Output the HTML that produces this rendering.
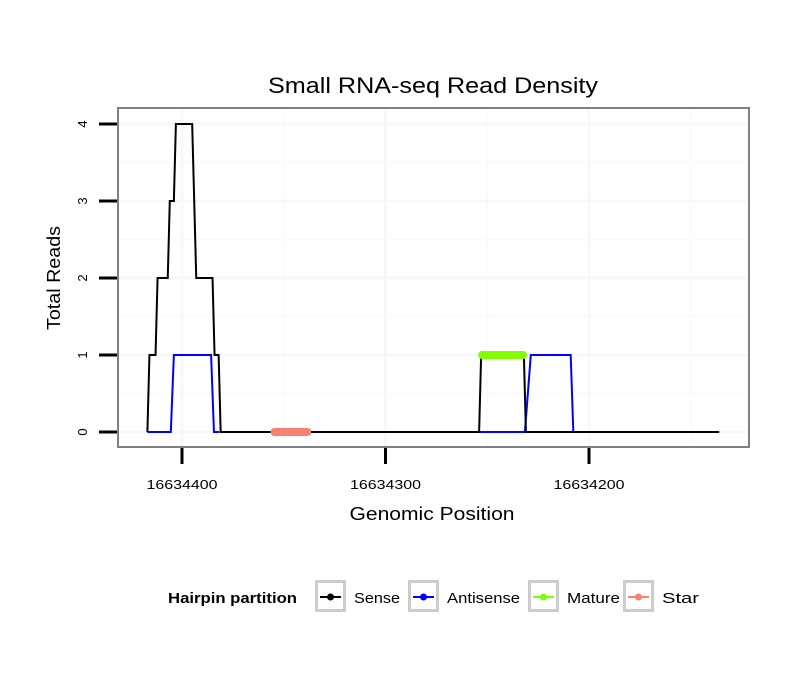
<!DOCTYPE html>
<html><head><meta charset="utf-8"><style>
body{margin:0;background:#fff}
svg{display:block;font-family:"Liberation Sans",sans-serif}
</style></head><body>
<svg id="chart" width="810" height="690" viewBox="0 0 810 690" xmlns="http://www.w3.org/2000/svg">
<text x="433" y="93" font-size="22" text-anchor="middle" textLength="330" lengthAdjust="spacingAndGlyphs">Small RNA-seq Read Density</text>
<g id="grid"></g>
<g id="series"></g>
<rect x="118" y="108" width="631" height="339" fill="none" stroke="#808080" stroke-width="2"/>
<g id="axes"></g>
<text x="432" y="520" font-size="18" text-anchor="middle" textLength="165" lengthAdjust="spacingAndGlyphs">Genomic Position</text>
<text transform="translate(60,278) rotate(-90)" font-size="18" text-anchor="middle" textLength="104" lengthAdjust="spacingAndGlyphs">Total Reads</text>
<g>
<text x="168" y="603" font-size="15" font-weight="bold" textLength="129" lengthAdjust="spacingAndGlyphs">Hairpin partition</text>
<g id="legend"></g>
</g>
</svg>
<script>
const xTicks=[16634400,16634300,16634200];
const xTickLabels=["16634400","16634300","16634200"];
const yTicks=[0,1,2,3,4];
const yTickLabels=["0","1","2","3","4"];
const senseX=[16634417,16634416,16634413,16634412,16634407,16634406,16634404,16634403,16634395,16634393,16634385,16634384,16634382,16634381,16634254,16634253,16634232,16634231,16634136];
const senseY=[0,1,1,2,2,3,3,4,4,2,2,1,1,0,0,1,1,0,0];
const antiX1=[16634417,16634405.5,16634404,16634385.7,16634384.3,16634381.7];
const antiY1=[0,0,1,1,0,0];
const antiX2=[16634253.6,16634231.5,16634228.6,16634209,16634207.7];
const antiY2=[0,0,1,1,0];
const matureX=[16634254,16634231];
const matureY=[1,1];
const starX=[16634356,16634337];
const starY=[0,0];
const legendLabels=["Sense","Antisense","Mature","Star"];
const legendColors=["#000000","#0000ff","#7fff00","#fa8072"];
const legendWidths=[46,73,53,37];

const NS="http://www.w3.org/2000/svg";
const X=v=>182+(16634400-v)*2.035;
const Y=v=>432-v*77;
function mk(tag,attrs,parent){const e=document.createElementNS(NS,tag);for(const k in attrs)e.setAttribute(k,attrs[k]);parent.appendChild(e);return e;}
const grid=document.getElementById('grid'),axes=document.getElementById('axes'),series=document.getElementById('series'),legend=document.getElementById('legend');
[16634350,16634250,16634150].forEach(v=>{const l=mk('line',{x1:X(v),x2:X(v),y1:109,y2:446,stroke:'#fbfbfb','stroke-width':2},grid);
});
[0.5,1.5,2.5,3.5].forEach(v=>{const l=mk('line',{x1:119,x2:748,y1:Y(v),y2:Y(v),stroke:'#fbfbfb','stroke-width':2},grid);
});
xTicks.forEach(v=>{const l=mk('line',{x1:X(v),x2:X(v),y1:109,y2:446,stroke:'#f8f8f8','stroke-width':3},grid);
});
yTicks.forEach(v=>{const l=mk('line',{x1:119,x2:748,y1:Y(v),y2:Y(v),stroke:'#f8f8f8','stroke-width':3},grid);
});
xTicks.forEach((v,i)=>{const t=mk('line',{x1:X(v),x2:X(v),y1:448,y2:464,stroke:'#000','stroke-width':3},axes);

const tx=mk('text',{x:X(v),y:489,'font-size':13,'text-anchor':'middle',textLength:71,lengthAdjust:'spacingAndGlyphs'},axes);tx.textContent=xTickLabels[i];
});
yTicks.forEach((v,i)=>{const t=mk('line',{x1:99,x2:117,y1:Y(v),y2:Y(v),stroke:'#000','stroke-width':3},axes);

const tx=mk('text',{transform:`translate(87,${Y(v)}) rotate(-90)`,'font-size':13,'text-anchor':'middle'},axes);tx.textContent=yTickLabels[i];
});
function path(xs,ys,color,w,name,cap,inset){inset=inset||0;
const d=xs.map((x,i)=>{let px=X(x);if(inset){px+= (i===0?inset:-inset);}return (i?'L':'M')+px+' '+Y(ys[i]);}).join(' ');
const p=mk('path',{d:d,fill:'none',stroke:color,'stroke-width':w,'stroke-linecap':cap||'butt','stroke-linejoin':'miter'},series);
}
path(antiX1,antiY1,'#0000ff',2,'antisense-line-1');
path(antiX2,antiY2,'#0000ff',2,'antisense-line-2');
path(senseX,senseY,'#000000',2,'sense-line');
path(matureX,matureY,'#7fff00',8,'mature-segment','round',3);
path(starX,starY,'#fa8072',8,'star-segment','round',3);
const boxX=[315,408,528,623];
legendLabels.forEach((lab,i)=>{const g=mk('g',{},legend);

mk('rect',{x:boxX[i]+1.5,y:581.5,width:28,height:29,fill:'#fff',stroke:'#cccccc','stroke-width':3},g);
mk('line',{x1:boxX[i]+5,x2:boxX[i]+26,y1:597,y2:597,stroke:legendColors[i],'stroke-width':2},g);
mk('circle',{cx:boxX[i]+15.5,cy:597,r:3.5,fill:legendColors[i]},g);
const t=mk('text',{x:boxX[i]+39,y:603,'font-size':15,textLength:legendWidths[i],lengthAdjust:'spacingAndGlyphs'},g);t.textContent=lab;});
</script>
</body></html>
